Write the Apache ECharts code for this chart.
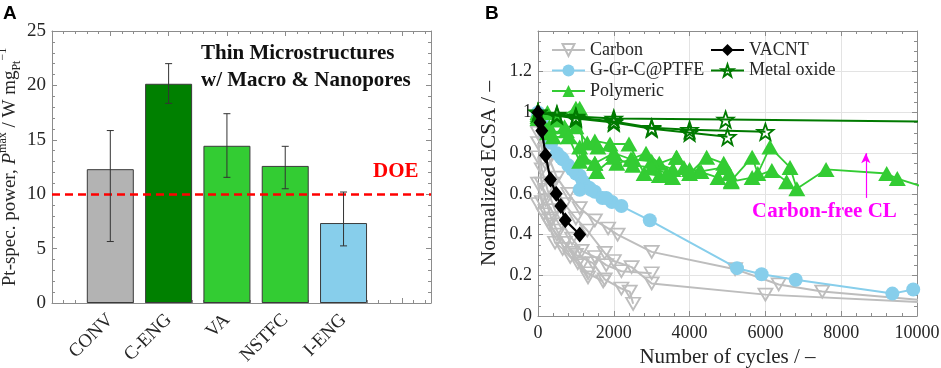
<!DOCTYPE html>
<html><head><meta charset="utf-8">
<script src="https://cdn.jsdelivr.net/npm/echarts@6.0.0/dist/echarts.min.js"></script>
<style>html,body{margin:0;padding:0;background:#fff}#c{width:941px;height:368px}</style>
</head><body><div id="c"></div>
<script>
// ---------- Panel A data ----------
const categories = ['CONV', 'C-ENG', 'VA', 'NSTFC', 'I-ENG'];
const powerValues = [12.3, 20.15, 14.45, 12.6, 7.35];
const errLow = [5.65, 18.35, 11.55, 10.5, 5.25];
const errHigh = [15.85, 22.0, 17.4, 14.4, 10.2];
const doeLevel = 10;
const yTicksA = [0, 5, 10, 15, 20, 25];

// ---------- Panel B data [cycles, normalized ECSA] ----------
const carbon1 = [[0,0.95],[150,0.85],[300,0.77],[500,0.68],[800,0.60],[1100,0.53],[1500,0.47],[1850,0.43],[2100,0.40],[3000,0.315],[5200,0.23],[6350,0.155],[7500,0.12],[10600,0.07]];
const carbon2 = [[0,0.90],[200,0.75],[400,0.65],[700,0.55],[1000,0.48],[1300,0.42],[1760,0.31],[2000,0.27],[2470,0.24],[3000,0.16],[6000,0.105],[10600,0.063]];
const carbon3 = [[0,0.85],[100,0.72],[250,0.62],[450,0.52],[650,0.45],[900,0.38],[1150,0.32],[1500,0.29],[1800,0.25],[2200,0.22],[3000,0.21]];
const carbon4 = [[0,0.78],[100,0.65],[200,0.57],[350,0.48],[500,0.42],[700,0.36],[900,0.31],[1150,0.25],[1320,0.19]];
const carbon5 = [[0,0.65],[100,0.56],[250,0.47],[450,0.36],[650,0.33],[850,0.29],[1050,0.26],[1320,0.21],[1720,0.17]];
const carbon6 = [[0,0.55],[150,0.50],[300,0.45],[500,0.40],[700,0.36],[1000,0.30],[1450,0.26],[1760,0.18],[2200,0.135],[2420,0.12],[2510,0.06]];
const ggrPtfe1 = [[0,1.0],[100,0.96],[220,0.89],[350,0.85],[500,0.80],[650,0.77],[800,0.74],[1000,0.70],[1100,0.69],[1200,0.66],[1350,0.63],[1500,0.61],[1700,0.58],[1950,0.56],[2200,0.54],[2950,0.47],[5250,0.235],[5900,0.205],[6800,0.178],[9350,0.11],[9900,0.13]];
const ggrPtfe2 = [[0,0.98],[300,0.87],[600,0.78],[900,0.72],[1100,0.62],[1400,0.62],[1800,0.58]];
const polymeric1 = [[0,1.0],[250,1.0],[500,0.97],[1000,1.02],[1100,1.02],[1200,0.78],[1500,0.75],[2000,0.80],[2450,0.77],[2850,0.80],[3200,0.75],[3650,0.78],[4000,0.70],[4450,0.78],[4900,0.75],[5100,0.665],[5650,0.78],[5800,0.70],[6120,0.83],[6650,0.73],[6830,0.625],[7600,0.72],[9200,0.70],[9480,0.675],[10500,0.615]];
const polymeric2 = [[0,0.98],[300,0.93],[700,0.93],[1000,0.93],[1300,0.85],[1500,0.86],[1900,0.845],[2400,0.845],[2800,0.70],[3200,0.69],[3550,0.68],[3850,0.73],[4250,0.71],[4750,0.68],[5100,0.66],[5650,0.68],[6170,0.715],[6560,0.66]];
const polymeric3 = [[0,0.97],[250,0.90],[750,0.91],[1100,0.83],[1580,0.83],[2000,0.80],[2080,0.75],[2480,0.77],[3000,0.76],[3560,0.72],[3660,0.78],[4000,0.72],[4300,0.71],[4900,0.73],[5050,0.70]];
const polymeric4 = [[0,0.99],[400,0.88],[800,0.88],[1100,0.76],[1500,0.75],[1550,0.71],[2000,0.78],[2500,0.74],[3000,0.73],[3400,0.70]];
const metalOxide1 = [[0,1.0],[500,0.99],[1000,0.98],[2000,0.97],[4950,0.965],[12000,0.952]];
const metalOxide2 = [[0,1.0],[500,0.985],[1000,0.975],[2000,0.955],[3000,0.925],[4000,0.915],[6000,0.905]];
const metalOxide3 = [[0,1.0],[1000,0.97],[2000,0.95],[3000,0.92],[4000,0.90],[5000,0.88]];
const vacnt = [[0,1.0],[50,0.95],[100,0.91],[200,0.79],[330,0.67],[480,0.60],[600,0.54],[720,0.47],[1100,0.40]];
const xTicksB = ['0', '2000', '4000', '6000', '8000', '10000'];
const yTicksB = ['0', '0.2', '0.4', '0.6', '0.8', '1', '1.2'];
const arrowFrom = [8650, 0.58];
const arrowTo = [8650, 0.80];

// ---------- styles ----------
const SERIF = "'Liberation Serif','Times New Roman',serif";
const barColors = ['#b3b3b3', '#008000', '#33cc33', '#33cc33', '#87ceeb'];
const AXC = '#8c8c8c';
const LBL = '#262626';
const starPath = 'path://M0,-10 L2.35,-3.24 L9.51,-3.09 L3.80,1.24 L5.88,8.09 L0,4 L-5.88,8.09 L-3.80,1.24 L-9.51,-3.09 L-2.35,-3.24 Z';

function boxAxis(type, gridIndex, pos, min, max, interval, minorSplit, opts) {
  return Object.assign({
    type: 'value', gridIndex, position: pos, min, max, interval,
    axisLine: {show: true, onZero: false, lineStyle: {color: AXC, width: 1}},
    axisTick: {show: true, inside: true, length: 5, lineStyle: {color: AXC}},
    minorTick: {show: true, splitNumber: minorSplit, length: 3, lineStyle: {color: AXC}},
    axisLabel: {show: false},
    splitLine: {show: false}
  }, opts || {});
}

const chart = echarts.init(document.getElementById('c'), null, {renderer: 'canvas'});

const styleB = {
  'Carbon': {symbol: 'triangle', rotate: 180, size: [14, 12], color: '#bdbdbd', hollow: true, width: 2},
  'G-Gr-C@PTFE': {symbol: 'circle', size: 14, color: '#87ceeb', hollow: false, width: 2},
  'Polymeric': {symbol: 'triangle', size: [17, 15], color: '#33cc33', hollow: false, width: 1.8},
  'Metal oxide': {symbol: starPath, size: 16, color: '#007a00', hollow: true, width: 2},
  'VACNT': {symbol: 'diamond', size: [13, 16], color: '#000000', hollow: false, width: 2.2}
};
function lineB(name, data, z) {
  const s = styleB[name];
  return {
    type: 'line', name, xAxisIndex: 2, yAxisIndex: 2, data, z,
    symbol: s.symbol, symbolSize: s.size, symbolRotate: s.rotate || 0, showAllSymbol: true,
    clip: true, animation: false,
    lineStyle: {color: s.color, width: s.width},
    itemStyle: s.hollow ? {color: 'rgba(255,255,255,0)', borderColor: s.color, borderWidth: 1.8}
                        : {color: s.color, borderColor: s.color, borderWidth: 0},
    emphasis: {disabled: true}
  };
}

const series = [
  {
    type: 'bar', xAxisIndex: 0, yAxisIndex: 0, barWidth: 47,
    data: categories.map((c, i) => ({value: [i + 1, powerValues[i]], itemStyle: {color: barColors[i]}})),
    itemStyle: {borderColor: '#3a3a3a', borderWidth: 1},
    markLine: {
      silent: true, symbol: 'none', label: {show: false}, animation: false,
      lineStyle: {color: '#ff0000', type: [8, 5], width: 2.5},
      data: [{yAxis: doeLevel}]
    },
    emphasis: {disabled: true}
  },
  {
    type: 'custom', xAxisIndex: 0, yAxisIndex: 0, z: 5,
    data: categories.map((c, i) => [i + 1, errLow[i], errHigh[i]]),
    renderItem: (params, api) => {
      const x = api.value(0);
      const lo = api.coord([x, api.value(1)]);
      const hi = api.coord([x, api.value(2)]);
      const w = 3.5, st = {stroke: '#333333', lineWidth: 1};
      return {type: 'group', children: [
        {type: 'line', shape: {x1: lo[0], y1: lo[1], x2: hi[0], y2: hi[1]}, style: st},
        {type: 'line', shape: {x1: lo[0] - w, y1: lo[1], x2: lo[0] + w, y2: lo[1]}, style: st},
        {type: 'line', shape: {x1: hi[0] - w, y1: hi[1], x2: hi[0] + w, y2: hi[1]}, style: st}
      ]};
    }
  },
  lineB('Carbon', carbon1, 2), lineB('Carbon', carbon2, 2), lineB('Carbon', carbon3, 2),
  lineB('Carbon', carbon4, 2), lineB('Carbon', carbon5, 2), lineB('Carbon', carbon6, 2),
  lineB('G-Gr-C@PTFE', ggrPtfe1, 3), lineB('G-Gr-C@PTFE', ggrPtfe2, 3),
  lineB('Polymeric', polymeric1, 4), lineB('Polymeric', polymeric2, 4),
  lineB('Polymeric', polymeric3, 4), lineB('Polymeric', polymeric4, 4),
  lineB('Metal oxide', metalOxide1, 5), lineB('Metal oxide', metalOxide2, 5), lineB('Metal oxide', metalOxide3, 5),
  lineB('VACNT', vacnt, 6),
  {
    type: 'line', xAxisIndex: 2, yAxisIndex: 2, data: [], z: 7,
    markLine: {
      silent: true, animation: false, symbol: ['none', 'arrow'], symbolSize: 9,
      label: {show: false},
      lineStyle: {color: '#ff00ff', width: 1.2, type: 'solid'},
      itemStyle: {color: '#ff00ff'},
      data: [[{coord: arrowFrom, symbol: 'none'}, {coord: arrowTo, symbol: 'arrow', symbolSize: [7, 10]}]]
    }
  }
];

const option = {
  animation: false,
  backgroundColor: '#ffffff',
  grid: [
    {left: 52, top: 31, width: 379, height: 272, outerBoundsMode: 'none', containLabel: false},
    {left: 538, top: 31, width: 379, height: 285, outerBoundsMode: 'none', containLabel: false}
  ],
  xAxis: [
    boxAxis('x', 0, 'bottom', 0, 6.5, 1, 5, {
      axisLabel: {show: true, rotate: 45, margin: 14, fontFamily: SERIF, fontSize: 19, color: LBL,
        formatter: v => (Number.isInteger(v) && v >= 1 && v <= categories.length) ? categories[v - 1] : ''},
      minorTick: {show: true, splitNumber: 5, length: 3, lineStyle: {color: AXC}}
    }),
    boxAxis('x', 0, 'top', 0, 6.5, 1, 5),
    boxAxis('x', 1, 'bottom', 0, 10000, 2000, 5, {
      axisLabel: {show: true, margin: 8, fontFamily: SERIF, fontSize: 18, color: LBL,
        formatter: v => xTicksB[Math.round(v / 2000)] || ''},
      splitLine: {show: true, lineStyle: {color: '#e3e3e3', width: 1}},
      name: 'Number of cycles / –', nameLocation: 'middle', nameGap: 30,
      nameTextStyle: {fontFamily: SERIF, fontSize: 21, color: LBL}
    }),
    boxAxis('x', 1, 'top', 0, 10000, 2000, 5)
  ],
  yAxis: [
    boxAxis('y', 0, 'left', 0, 25, 5, 5, {
      axisLabel: {show: true, margin: 6, fontFamily: SERIF, fontSize: 19, color: LBL,
        formatter: v => yTicksA.includes(v) ? String(v) : ''},
      name: '{n|Pt-spec. power, }{i|P}{sup|max}{n| / W mg}{sub|Pt}{sup|−1}',
      nameLocation: 'middle', nameGap: 27, nameRotate: 90,
      nameTextStyle: {
        fontFamily: SERIF, fontSize: 19, color: LBL,
        rich: {
          n: {fontFamily: SERIF, fontSize: 19, color: LBL, lineHeight: 26},
          i: {fontFamily: SERIF, fontSize: 19, fontStyle: 'italic', color: LBL, lineHeight: 26},
          sup: {fontFamily: SERIF, fontSize: 12, color: LBL, verticalAlign: 'top', lineHeight: 12},
          sub: {fontFamily: SERIF, fontSize: 12, color: LBL, verticalAlign: 'bottom', lineHeight: 12}
        }
      }
    }),
    boxAxis('y', 0, 'right', 0, 25, 5, 5),
    boxAxis('y', 1, 'left', 0, 1.4, 0.2, 4, {
      axisLabel: {show: true, margin: 6, fontFamily: SERIF, fontSize: 18, color: LBL,
        formatter: v => yTicksB[Math.round(v / 0.2)] || ''},
      splitLine: {show: true, lineStyle: {color: '#e3e3e3', width: 1}},
      name: 'Normalized ECSA / –', nameLocation: 'middle', nameGap: 38,
      nameTextStyle: {fontFamily: SERIF, fontSize: 21, color: LBL}
    }),
    boxAxis('y', 1, 'right', 0, 1.4, 0.2, 4)
  ],
  legend: [
    {data: ['Carbon', 'G-Gr-C@PTFE', 'Polymeric'], orient: 'vertical', left: 551, top: 41,
      itemWidth: 33, itemHeight: 15, itemGap: 2.5, padding: 0, selectedMode: false,
      textStyle: {fontFamily: SERIF, fontSize: 18, color: LBL}},
    {data: ['VACNT', 'Metal oxide'], orient: 'vertical', left: 710, top: 41,
      itemWidth: 33, itemHeight: 15, itemGap: 2.5, padding: 0, selectedMode: false,
      textStyle: {fontFamily: SERIF, fontSize: 18, color: LBL}}
  ],
  graphic: [
    {type: 'text', left: 3, top: 4, style: {text: 'A', font: "bold 19px 'Liberation Sans', Arial, sans-serif", fill: '#000'}},
    {type: 'text', left: 485, top: 4, style: {text: 'B', font: "bold 19px 'Liberation Sans', Arial, sans-serif", fill: '#000'}},
    {type: 'text', left: 201, top: 40, style: {text: 'Thin Microstructures\nw/ Macro & Nanopores', font: "bold 21px " + SERIF, fill: '#111', lineHeight: 27}},
    {type: 'text', left: 373, top: 161, style: {text: 'DOE', font: "bold 21px " + SERIF, fill: '#ff0000'}},
    {type: 'text', left: 752, top: 201, style: {text: 'Carbon-free CL', font: "bold 21px " + SERIF, fill: '#ff00ff'}}
  ],
  series
};
chart.setOption(option);
</script>
</body></html>
